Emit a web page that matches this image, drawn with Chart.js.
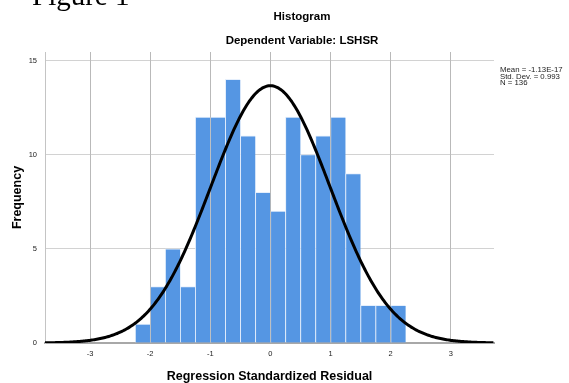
<!DOCTYPE html>
<html>
<head>
<meta charset="utf-8">
<script src="https://cdn.jsdelivr.net/npm/chart.js@4/dist/chart.umd.min.js"></script>
<style>
    html, body { margin: 0; padding: 0; background: #fff; }
    #wrap { width: 569px; height: 383px; position: relative; }
</style>
</head>
<body>
<div id="wrap"><canvas id="histChart"></canvas></div>
<script>
        // Residual histogram: bin centres (width 0.25) and counts
        const binCenters = [-2.125, -1.875, -1.625, -1.375, -1.125, -0.875, -0.625, -0.375, -0.125,
                            0.125, 0.375, 0.625, 0.875, 1.125, 1.375, 1.625, 1.875, 2.125];
        const frequencies = [1, 3, 5, 3, 12, 12, 14, 11, 8, 7, 12, 10, 11, 12, 9, 2, 2, 2];
        const xTicks = [-3, -2, -1, 0, 1, 2, 3];
        const yTicks = [0, 5, 10, 15];
        const statLines = ['Mean = -1.13E-17', 'Std. Dev. = 0.993', 'N = 136'];

        const residMean = -1.13e-17;
        const residSD = 0.993;
        const residN = 136;
        const binWidth = 0.25;
        const xMin = -3.75, xMax = 3.72, yMax = 15.45;

        // Normal curve scaled to counts (N * bin width * density)
        const curve = [];
        for (let x = xMin; x <= xMax + 1e-9; x += 0.02) {
            const z = (x - residMean) / residSD;
            const y = residN * binWidth * Math.exp(-0.5 * z * z) / (residSD * Math.sqrt(2 * Math.PI));
            curve.push({ x: x, y: y });
        }

        // vertical grid sits on top of the bars, under the curve
        const gridOverBars = {
            id: 'gridOverBars',
            afterDatasetDraw(chart, args) {
                if (args.index === 0) chart.scales.x.drawGrid(chart.chartArea);
            }
        };

        const headings = {
            id: 'headings',
            afterDraw(chart) {
                const ctx = chart.ctx;
                ctx.save();
                ctx.fillStyle = '#000';
                ctx.textBaseline = 'alphabetic';
                ctx.textAlign = 'left';
                ctx.font = '29px "Liberation Serif"';
                ctx.fillText('Figure 1', 32, 5);

                ctx.textAlign = 'center';
                ctx.textBaseline = 'middle';
                ctx.font = 'bold 11.5px "Liberation Sans"';
                ctx.fillText('Histogram', 302, 17);
                ctx.fillText('Dependent Variable: LSHSR', 302, 41);

                ctx.textAlign = 'left';
                ctx.font = '7.8px "Liberation Sans"';
                ctx.fillStyle = '#222';
                statLines.forEach((t, i) => ctx.fillText(t, 500, 70 + i * 6.6));
                ctx.restore();
            }
        };

        const tickFont = { family: 'Liberation Sans', size: 7.5 };

        new Chart(document.getElementById('histChart'), {
            data: {
                datasets: [{
                    type: 'bar',
                    data: binCenters.map((c, i) => ({ x: c, y: frequencies[i] })),
                    backgroundColor: '#5596e3',
                    borderColor: 'rgba(225,236,252,0.85)',
                    borderWidth: { top: 1, left: 1, right: 0, bottom: 0 },
                    borderSkipped: false,
                    barPercentage: 1,
                    categoryPercentage: 1,
                    order: 1
                }, {
                    type: 'line',
                    data: curve,
                    borderColor: '#000',
                    borderWidth: 3,
                    pointRadius: 0,
                    fill: false,
                    tension: 0,
                    order: 0
                }]
            },
            options: {
                responsive: true,
                maintainAspectRatio: false,
                animation: false,
                layout: { padding: { left: 0, top: 52, right: 75, bottom: 0 } },
                plugins: { legend: { display: false }, tooltip: { enabled: false } },
                scales: {
                    x: {
                        type: 'linear',
                        min: xMin,
                        max: xMax,
                        offset: false,
                        afterBuildTicks: s => { s.ticks = xTicks.map(v => ({ value: v })); },
                        afterFit: s => { s.height = 40; },
                        grid: { offset: false, color: 'rgba(180,180,180,0.75)', lineWidth: 1, drawTicks: false },
                        border: { color: '#a8a8a8', width: 2 },
                        ticks: { font: tickFont, color: '#222', padding: 6, maxRotation: 0 },
                        title: {
                            display: true,
                            text: 'Regression Standardized Residual',
                            font: { family: 'Liberation Sans', size: 12.5, weight: 'bold', lineHeight: 1 },
                            color: '#000',
                            padding: 0
                        }
                    },
                    y: {
                        min: 0,
                        max: yMax,
                        afterBuildTicks: s => { s.ticks = yTicks.map(v => ({ value: v })); },
                        afterFit: s => { s.width = 45; },
                        grid: { color: '#d2d2d2', lineWidth: 1, drawTicks: false },
                        border: { color: '#c4c4c4', width: 1 },
                        ticks: { font: tickFont, color: '#222', padding: 8 },
                        title: {
                            display: true,
                            text: 'Frequency',
                            font: { family: 'Liberation Sans', size: 12.5, weight: 'bold', lineHeight: 1.2 },
                            color: '#000',
                            padding: { top: 10, bottom: 0 }
                        }
                    }
                }
            },
            plugins: [gridOverBars, headings]
        });
</script>
</body>
</html>
